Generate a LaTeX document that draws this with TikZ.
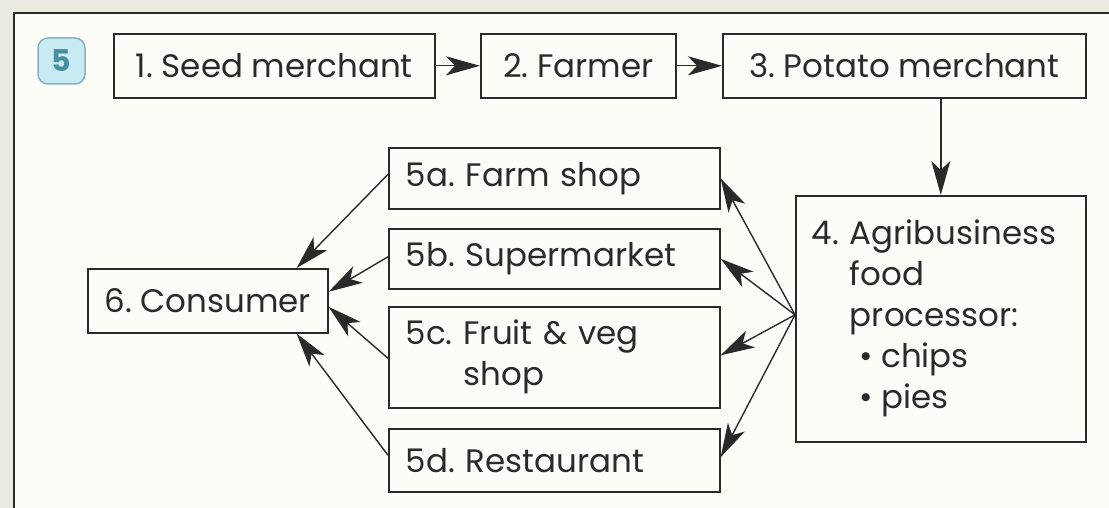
\documentclass[tikz,border=0pt]{standalone}
\usepackage{fontspec}
\setmainfont{Poppins}
\usetikzlibrary{arrows.meta}
\definecolor{bgbeige}{HTML}{EDEBE1}
\definecolor{inner}{HTML}{FDFDF8}
\definecolor{ink}{HTML}{2A2A2A}
\definecolor{badgefill}{HTML}{C6EBF2}
\definecolor{badgeline}{HTML}{86B4BC}
\definecolor{badgetext}{HTML}{4A8EA2}
\frenchspacing
\hyphenpenalty=10000
\exhyphenpenalty=10000
\begin{document}
\begin{tikzpicture}[x=1pt,y=1pt,
  box/.style={draw=ink, line width=1.6pt, fill=inner, rectangle, inner sep=0pt,
    text=ink, anchor=north west, font=\fontsize{32.5}{41}\selectfont},
  lbox/.style={box, align=left, inner xsep=17pt},
  arr/.style={draw=ink, line width=1.4pt, -{Stealth[length=34pt,width=19pt,inset=9pt]}},
  badge/.style={draw=badgeline, line width=1.5pt, fill=badgefill, rounded corners=10pt,
    minimum width=47pt, minimum height=46pt, inner sep=0pt, text=badgetext,
    font=\fontsize{30}{30}\selectfont\bfseries},
]
\useasboundingbox (0,0) rectangle (1109,-508);
\clip (0,0) rectangle (1109,-508);
\fill[bgbeige] (0,0) rectangle (1109,-508);
\filldraw[fill=inner, draw=ink, line width=2.5pt] (14,-13) rectangle (1140,-540);

\node[badge] (badge) at (61.5,-61) {5};

\node[box, minimum width=321pt, minimum height=64pt] (b1) at (113,-33) {1. Seed merchant};
\node[box, minimum width=195pt, minimum height=64pt] (b2) at (480,-33) {2. Farmer};
\node[box, minimum width=363pt, minimum height=64pt] (b3) at (722,-33) {3. Potato merchant};

\node[box, align=left, inner xsep=16pt, text width=258pt, minimum height=246pt] (b4) at (795,-195)
  {4. Agribusiness\\\phantom{4. }food\\\phantom{4. }processor:\\\phantom{4. }\hspace{10pt}\textbullet\hspace{8pt}chips\\\phantom{4. }\hspace{10pt}\textbullet\hspace{8pt}pies};

\node[lbox, text width=297pt, minimum height=61pt] (s5a) at (388,-147) {5a. Farm shop};
\node[lbox, text width=297pt, minimum height=60pt] (s5b) at (388,-228) {5b. Supermarket};
\node[lbox, text width=297pt, minimum height=101pt] (s5c) at (388,-306) {5c. Fruit \& veg\\\phantom{5c. }shop};
\node[lbox, text width=297pt, minimum height=63pt] (s5d) at (388,-428) {5d. Restaurant};

\node[box, minimum width=240pt, minimum height=64pt] (b6) at (87,-268) {6. Consumer};

\draw[arr] (b1.east) -- (b2.west);
\draw[arr] (b2.east) -- (b3.west);
\draw[arr] (b4.north |- b3.south) -- (b4.north);

\coordinate (hub) at ([yshift=4pt]b4.west);
\draw[arr] (hub) -- (s5a.east);
\draw[arr] (hub) -- (s5b.east);
\draw[arr] (hub) -- ([yshift=2pt]s5c.east);
\draw[arr] (hub) -- ([yshift=3pt]s5d.east);

\draw[arr] ([yshift=4pt]s5a.west) -- ([xshift=-32pt]b6.north east);
\draw[arr] ([yshift=2pt]s5b.west) -- ([yshift=9pt]b6.east);
\draw[arr] ([yshift=-1pt]s5c.west) -- ([yshift=-6pt]b6.east);
\draw[arr] ([yshift=5pt]s5d.west) -- ([xshift=-32pt]b6.south east);
\end{tikzpicture}
\end{document}
